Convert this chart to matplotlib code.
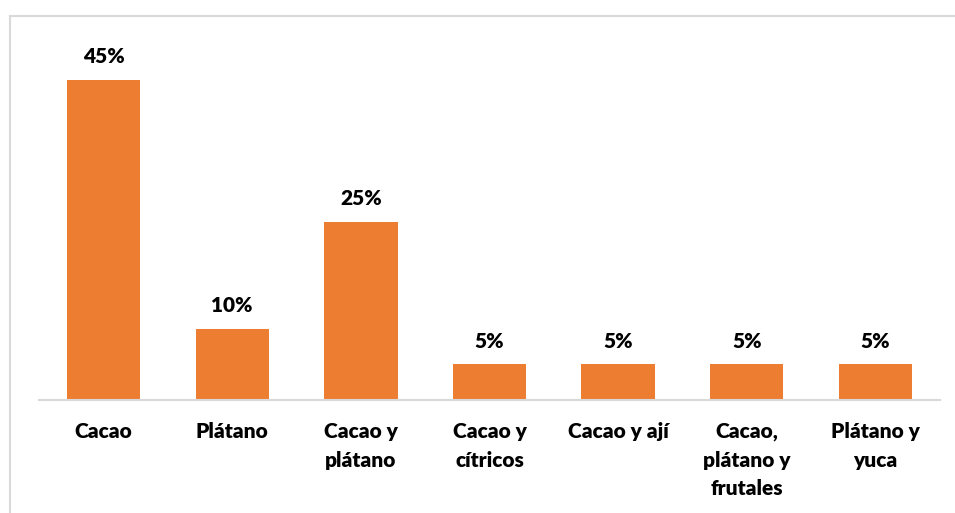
import matplotlib.pyplot as plt
from matplotlib.lines import Line2D

# Data
categories = ["Cacao", "Plátano", "Cacao y\nplátano", "Cacao y\ncítricos",
              "Cacao y ají", "Cacao,\nplátano y\nfrutales", "Plátano y\nyuca"]
values = [45, 10, 25, 5, 5, 5, 5]

bar_color = "#ED7D31"
grey = "#D9D9D9"

plt.rcParams['font.family'] = ['Lato', 'DejaVu Sans']

fig = plt.figure(figsize=(9.55, 5.13), dpi=100)
ax = fig.add_axes([39.2 / 955, 113 / 513, 900.6 / 955, 355.6 / 513])

x = range(len(categories))
bars = ax.bar(x, values, width=0.57, color=bar_color)
ax.bar_label(bars, labels=[f"{v}%" for v in values], padding=10,
             fontsize=15, fontweight="heavy")

ax.set_xlim(-0.5, len(categories) - 0.5)
ax.set_ylim(0, 50)
ax.set_xticks(list(x), categories, fontsize=15, fontweight="heavy",
              linespacing=1.58)
ax.tick_params(axis="x", length=0, pad=16)
ax.set_yticks([])

for side in ["top", "right", "left"]:
    ax.spines[side].set_visible(False)
ax.spines["bottom"].set_color(grey)
ax.spines["bottom"].set_linewidth(1.5)

# outer chart border (only top and left edges are visible in the crop)
fig.add_artist(Line2D([10 / 955, 1], [1 - 15.5 / 513, 1 - 15.5 / 513],
                      color=grey, lw=1.5, transform=fig.transFigure))
fig.add_artist(Line2D([10 / 955, 10 / 955], [0, 1 - 15.5 / 513],
                      color=grey, lw=1.5, transform=fig.transFigure))

fig.savefig("out.png", dpi=100)
